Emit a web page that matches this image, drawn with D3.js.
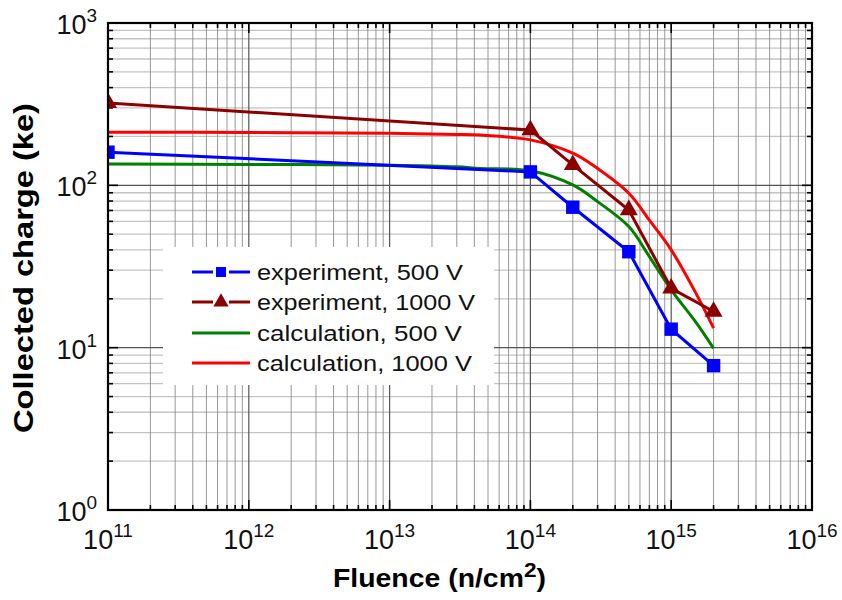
<!DOCTYPE html>
<html>
<head>
<meta charset="utf-8">
<script src="https://cdn.jsdelivr.net/npm/d3@7"></script>
<style>
  body { margin: 0; background: #fff; }
  svg { font-family: "Liberation Sans", Arial, sans-serif; }
</style>
</head>
<body>
<svg id="chart" width="842" height="600"></svg>
<script>
// fluence points (n/cm^2)
const expFluence = [1e11, 1e14, 2e14, 5e14, 1e15, 2e15];
const exp500 = [160, 121, 73.3, 39, 13.0, 7.75];
const exp1000 = [322, 219, 133.6, 70.5, 23.2, 16.7];

const calcFluence = [1e11, 1e12, 1e13, 3e13, 4.4e13, 1e14, 2e14, 3e14, 5e14, 7e14, 1e15, 1.5e15, 2e15];
const calc500 = [135.5, 134.5, 133, 130, 127, 123, 100.6, 79.4, 55.7, 36.4, 22.7, 14.3, 9.9];
const calc1000 = [212.5, 211.5, 209, 206, 204, 190.5, 157.7, 127, 89.4, 61, 40, 21.6, 13.2];

const xDecades = [11, 12, 13, 14, 15, 16];
const yDecades = [0, 1, 2, 3];

const legendLabels = ["experiment, 500 V", "experiment, 1000 V", "calculation, 500 V", "calculation, 1000 V"];

const svg = d3.select("#chart");
const pLeft = 108, pRight = 812, pTop = 23, pBottom = 510;

const x = d3.scaleLog().domain([1e11, 1e16]).range([pLeft, pRight]);
const y = d3.scaleLog().domain([1, 1000]).range([pBottom, pTop]);

// minor values for each decade
function minors(decades) {
  const out = [];
  for (let i = 0; i < decades.length - 1; i++)
    for (let k = 2; k <= 9; k++) out.push(k * Math.pow(10, decades[i]));
  return out;
}
const xMajor = xDecades.map(d => Math.pow(10, d));
const yMajor = yDecades.map(d => Math.pow(10, d));
const xMinor = minors(xDecades);
const yMinor = minors(yDecades);

// grid
const grid = svg.append("g");
grid.selectAll(".hmin").data(yMinor).enter().append("line")
  .attr("x1", pLeft).attr("x2", pRight)
  .attr("y1", d => y(d)).attr("y2", d => y(d))
  .attr("stroke", "#c4c4c4").attr("stroke-width", 1.3);
grid.selectAll(".vmin").data(xMinor).enter().append("line")
  .attr("y1", pTop).attr("y2", pBottom)
  .attr("x1", d => x(d)).attr("x2", d => x(d))
  .attr("stroke", "#8c8c8c").attr("stroke-width", 0.9);
grid.selectAll(".hmaj").data(yMajor).enter().append("line")
  .attr("x1", pLeft).attr("x2", pRight)
  .attr("y1", d => y(d)).attr("y2", d => y(d))
  .attr("stroke", "#555").attr("stroke-width", 1.2);
grid.selectAll(".vmaj").data(xMajor).enter().append("line")
  .attr("y1", pTop).attr("y2", pBottom)
  .attr("x1", d => x(d)).attr("x2", d => x(d))
  .attr("stroke", "#555").attr("stroke-width", 1.2);

// inward ticks on all four sides
const ticks = svg.append("g").attr("stroke", "#000").attr("stroke-width", 1.6);
function tickLen(major) { return major ? 10 : 5; }
[[xMajor, true], [xMinor, false]].forEach(([vals, maj]) => {
  ticks.selectAll(null).data(vals).enter().append("line")
    .attr("x1", d => x(d)).attr("x2", d => x(d))
    .attr("y1", pBottom).attr("y2", pBottom - tickLen(maj));
  ticks.selectAll(null).data(vals).enter().append("line")
    .attr("x1", d => x(d)).attr("x2", d => x(d))
    .attr("y1", pTop).attr("y2", pTop + tickLen(maj));
});
[[yMajor, true], [yMinor, false]].forEach(([vals, maj]) => {
  ticks.selectAll(null).data(vals).enter().append("line")
    .attr("y1", d => y(d)).attr("y2", d => y(d))
    .attr("x1", pLeft).attr("x2", pLeft + tickLen(maj));
  ticks.selectAll(null).data(vals).enter().append("line")
    .attr("y1", d => y(d)).attr("y2", d => y(d))
    .attr("x1", pRight).attr("x2", pRight - tickLen(maj));
});

// tick labels
function powLabel(sel, exp) {
  sel.append("tspan").text("10");
  sel.append("tspan").attr("font-size", 19).attr("dy", -12).text(exp);
}
xDecades.forEach(d => {
  const t = svg.append("text").attr("x", x(Math.pow(10, d))).attr("y", 549)
    .attr("text-anchor", "middle").attr("font-size", 27).attr("fill", "#111");
  powLabel(t, d);
});
yDecades.forEach(d => {
  const t = svg.append("text").attr("x", 97).attr("y", y(Math.pow(10, d)) + 11)
    .attr("text-anchor", "end").attr("font-size", 27).attr("fill", "#111");
  powLabel(t, d);
});

// plot clip
svg.append("clipPath").attr("id", "clip").append("rect")
  .attr("x", pLeft).attr("y", pTop).attr("width", pRight - pLeft).attr("height", pBottom - pTop);
const plot = svg.append("g").attr("clip-path", "url(#clip)");

const smooth = d3.line().curve(d3.curveCatmullRom.alpha(0.5));
const straight = d3.line();
function path(gen, xs, ys, color) {
  plot.append("path")
    .attr("d", gen(xs.map((f, i) => [x(f), y(ys[i])])))
    .attr("fill", "none").attr("stroke", color).attr("stroke-width", 3);
}
const blue = "#0000ff", dark = "#8b0000", green = "#008000", red = "#ff0000";
path(smooth, calcFluence, calc500, green);
path(smooth, calcFluence, calc1000, red);
path(straight, expFluence, exp1000, dark);
path(straight, expFluence, exp500, blue);

const square = d3.symbol().type(d3.symbolSquare).size(180);
const tri = d3.symbol().type(d3.symbolTriangle).size(140);
plot.selectAll(".sq").data(expFluence).enter().append("path")
  .attr("d", square)
  .attr("transform", (d, i) => `translate(${x(d)},${y(exp500[i])})`)
  .attr("fill", blue);
plot.selectAll(".tr").data(expFluence).enter().append("path")
  .attr("d", tri)
  .attr("transform", (d, i) => `translate(${x(d)},${y(exp1000[i])})`)
  .attr("fill", dark);

// frame
svg.append("rect").attr("x", pLeft).attr("y", pTop)
  .attr("width", pRight - pLeft).attr("height", pBottom - pTop)
  .attr("fill", "none").attr("stroke", "#000").attr("stroke-width", 2.2);

// legend
const lg = svg.append("g");
lg.append("rect").attr("x", 163).attr("y", 247).attr("width", 331).attr("height", 138).attr("fill", "#fff");
const legendColors = [blue, dark, green, red];
const legendRows = [272, 302, 333, 363];
const legendWidths = [206, 218, 205, 215];
legendLabels.forEach((lab, i) => {
  const ly = legendRows[i];
  if (i < 2) {
    // line broken around the marker
    lg.append("line").attr("x1", 192).attr("x2", 213).attr("y1", ly).attr("y2", ly)
      .attr("stroke", legendColors[i]).attr("stroke-width", 3);
    lg.append("line").attr("x1", 229).attr("x2", 250).attr("y1", ly).attr("y2", ly)
      .attr("stroke", legendColors[i]).attr("stroke-width", 3);
  } else {
    lg.append("line").attr("x1", 192).attr("x2", 250).attr("y1", ly).attr("y2", ly)
      .attr("stroke", legendColors[i]).attr("stroke-width", 3);
  }
  if (i === 0) lg.append("path").attr("d", d3.symbol().type(d3.symbolSquare).size(100))
    .attr("transform", `translate(221,${ly})`).attr("fill", blue);
  if (i === 1) lg.append("path").attr("d", d3.symbol().type(d3.symbolTriangle).size(100))
    .attr("transform", `translate(221,${ly})`).attr("fill", dark);
  const t = lg.append("text").attr("font-size", 22).attr("fill", "#111").text(lab);
  const w = t.node().getComputedTextLength();
  t.attr("transform", `translate(257,${ly + 8}) scale(${legendWidths[i] / w},1)`);
});

// axis titles
const xt = svg.append("text").attr("font-size", 25).attr("font-weight", "bold").attr("fill", "#000");
xt.append("tspan").text("Fluence (n/cm");
xt.append("tspan").attr("font-size", 20).attr("dy", -10).text("2");
xt.append("tspan").attr("dy", 10).text(")");
const xw = xt.node().getComputedTextLength();
xt.attr("transform", `translate(333,587) scale(${213 / xw},1)`);

const yt = svg.append("text").attr("font-size", 27).attr("font-weight", "bold").attr("fill", "#000")
  .attr("text-anchor", "middle").text("Collected charge (ke)");
const yw = yt.node().getComputedTextLength();
yt.attr("transform", `translate(33,268) rotate(-90) scale(${330 / yw},1)`);
</script>
</body>
</html>
